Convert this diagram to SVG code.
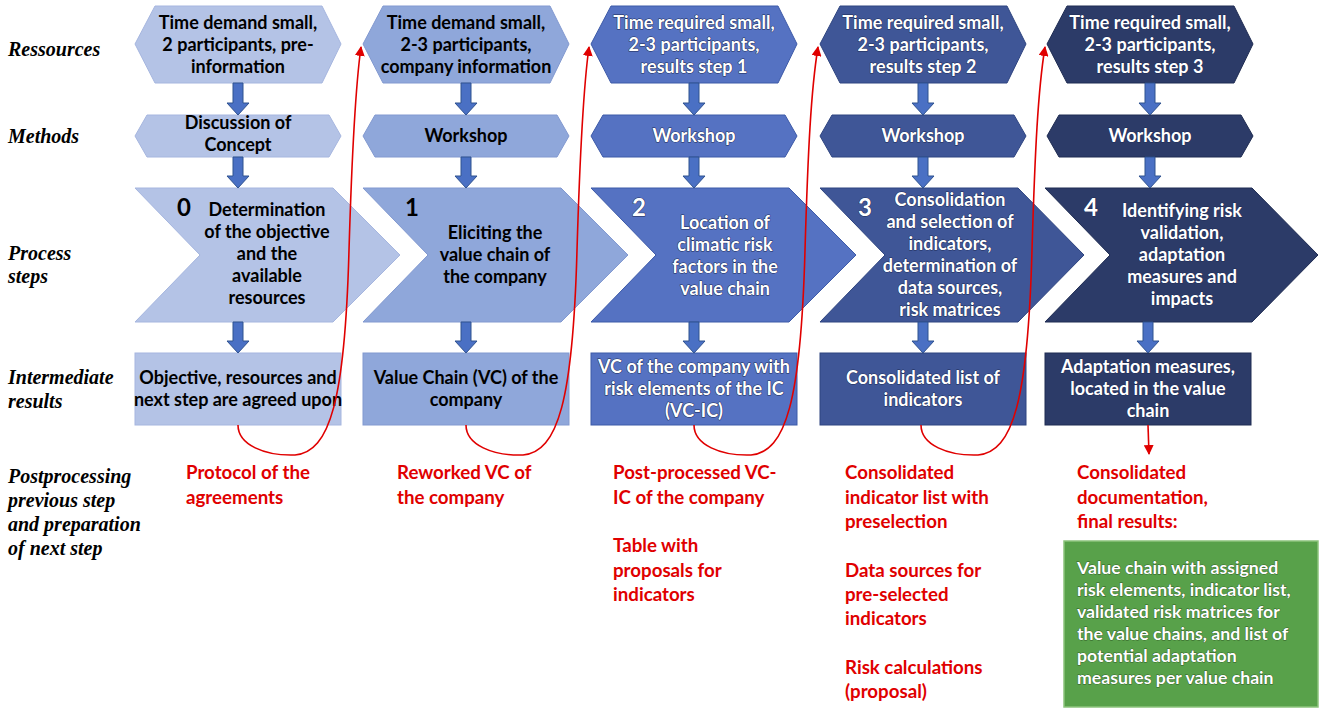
<svg xmlns="http://www.w3.org/2000/svg" width="1325" height="712" viewBox="0 0 1325 712">
<defs>
<marker id="ra" viewBox="0 0 10 10" refX="9" refY="5" markerWidth="10" markerHeight="10" markerUnits="userSpaceOnUse" orient="auto">
<path d="M0,0 L10,5 L0,10 z" fill="#e00000"/>
</marker>
</defs>
<style>
.lab{font-family:"Liberation Serif",serif;font-weight:bold;font-style:italic;font-size:20px;fill:#000}
.t{font-family:"Lato","Carlito",sans-serif;font-weight:bold;font-size:18px;text-anchor:middle}
.k{fill:#000}
.w{fill:#fff;stroke:#1c2a55;stroke-width:1;paint-order:stroke;stroke-linejoin:round}
.num{font-family:"Lato","Carlito",sans-serif;font-weight:bold;font-size:24px}
.red{font-family:"Lato","Carlito",sans-serif;font-weight:bold;font-size:18.7px;fill:#e00000}
.c0{fill:#b4c3e6;stroke:#a6b6df;stroke-width:1}
.c1{fill:#8fa7da;stroke:#8299d0;stroke-width:1}
.c2{fill:#5572c2;stroke:#3d5aa8;stroke-width:1}
.c3{fill:#3f5697;stroke:#2f4580;stroke-width:1}
.c4{fill:#2c3b68;stroke:#1f2c52;stroke-width:1}
.ba{fill:#4a70c4;stroke:#2f528f;stroke-width:1}
.rc{fill:none;stroke:#e00000;stroke-width:1.6}
.gb{fill:#58a14a;stroke:#8cc47c;stroke-width:1.5}
.g{font-family:"Lato","Carlito",sans-serif;font-weight:bold;font-size:17.7px;fill:#fff;stroke:#2e5a24;stroke-width:0.8;paint-order:stroke}
</style>

<g id="labels">
<text class="lab" x="8" y="56">Ressources</text>
<text class="lab" x="8" y="143">Methods</text>
<text class="lab" x="8" y="260">Process</text>
<text class="lab" x="8" y="283">steps</text>
<text class="lab" x="8" y="384">Intermediate</text>
<text class="lab" x="8" y="408">results</text>
<text class="lab" x="8" y="483">Postprocessing</text>
<text class="lab" x="8" y="507">previous step</text>
<text class="lab" x="8" y="531">and preparation</text>
<text class="lab" x="8" y="555">of next step</text>
</g>

<!-- Column 0 -->
<g id="res0">
<polygon class="c0" points="135,44 155,6 322,6 341,44 322,83 155,83"/>
<text class="t k" x="238" y="29">Time demand small,</text>
<text class="t k" x="238" y="51">2 participants, pre-</text>
<text class="t k" x="238" y="73">information</text>
</g>
<g id="met0">
<polygon class="c0" points="135,136 147,115 329,115 341,136 329,157 147,157"/>
<text class="t k" x="238" y="129">Discussion of</text>
<text class="t k" x="238" y="151">Concept</text>
</g>
<g id="step0">
<polygon class="c0" points="135,188 333,188 400,255 333,322 135,322 200,255"/>
<text class="num k" x="177" y="216">0</text>
<text class="t k" x="267" y="216">Determination</text>
<text class="t k" x="267" y="238">of the objective</text>
<text class="t k" x="267" y="260">and the</text>
<text class="t k" x="267" y="282">available</text>
<text class="t k" x="267" y="304">resources</text>
</g>
<g id="out0">
<rect class="c0" x="135" y="353" width="206" height="72"/>
<text class="t k" x="238" y="384">Objective, resources and</text>
<text class="t k" x="238" y="406">next step are agreed upon</text>
</g>
<g id="post0">
<text class="red" x="186" y="479">Protocol of the</text>
<text class="red" x="186" y="504">agreements</text>
</g>

<!-- Column 1 -->
<g id="res1">
<polygon class="c1" points="363,44 383,6 550,6 569,44 550,83 383,83"/>
<text class="t k" x="466" y="29">Time demand small,</text>
<text class="t k" x="466" y="51">2-3 participants,</text>
<text class="t k" x="466" y="73">company information</text>
</g>
<g id="met1">
<polygon class="c1" points="363,136 375,115 557,115 569,136 557,157 375,157"/>
<text class="t k" x="466" y="142">Workshop</text>
</g>
<g id="step1">
<polygon class="c1" points="363,188 561,188 628,255 561,322 363,322 428,255"/>
<text class="num k" x="405" y="216">1</text>
<text class="t k" x="495" y="239">Eliciting the</text>
<text class="t k" x="495" y="261">value chain of</text>
<text class="t k" x="495" y="283">the company</text>
</g>
<g id="out1">
<rect class="c1" x="363" y="353" width="206" height="72"/>
<text class="t k" x="466" y="384">Value Chain (VC) of the</text>
<text class="t k" x="466" y="406">company</text>
</g>
<g id="post1">
<text class="red" x="397" y="479">Reworked VC of</text>
<text class="red" x="397" y="504">the company</text>
</g>

<!-- Column 2 -->
<g id="res2">
<polygon class="c2" points="591,44 611,6 778,6 797,44 778,83 611,83"/>
<text class="t w" x="694" y="29">Time required small,</text>
<text class="t w" x="694" y="51">2-3 participants,</text>
<text class="t w" x="694" y="73">results step 1</text>
</g>
<g id="met2">
<polygon class="c2" points="591,136 603,115 785,115 797,136 785,157 603,157"/>
<text class="t w" x="694" y="142">Workshop</text>
</g>
<g id="step2">
<polygon class="c2" points="591,188 789,188 856,255 789,322 591,322 656,255"/>
<text class="num w" x="632" y="216">2</text>
<text class="t w" x="725" y="229">Location of</text>
<text class="t w" x="725" y="251">climatic risk</text>
<text class="t w" x="725" y="273">factors in the</text>
<text class="t w" x="725" y="295">value chain</text>
</g>
<g id="out2">
<rect class="c2" x="591" y="353" width="206" height="72"/>
<text class="t w" x="694" y="373">VC of the company with</text>
<text class="t w" x="694" y="395">risk elements of the IC</text>
<text class="t w" x="694" y="417">(VC-IC)</text>
</g>
<g id="post2">
<text class="red" x="613" y="479">Post-processed VC-</text>
<text class="red" x="613" y="504">IC of the company</text>
<text class="red" x="613" y="552">Table with</text>
<text class="red" x="613" y="577">proposals for</text>
<text class="red" x="613" y="601">indicators</text>
</g>

<!-- Column 3 -->
<g id="res3">
<polygon class="c3" points="820,44 840,6 1007,6 1026,44 1007,83 840,83"/>
<text class="t w" x="923" y="29">Time required small,</text>
<text class="t w" x="923" y="51">2-3 participants,</text>
<text class="t w" x="923" y="73">results step 2</text>
</g>
<g id="met3">
<polygon class="c3" points="820,136 832,115 1014,115 1026,136 1014,157 832,157"/>
<text class="t w" x="923" y="142">Workshop</text>
</g>
<g id="step3">
<polygon class="c3" points="820,188 1018,188 1084,255 1018,322 820,322 885,255"/>
<text class="num w" x="858" y="216">3</text>
<text class="t w" x="950" y="206">Consolidation</text>
<text class="t w" x="950" y="228">and selection of</text>
<text class="t w" x="950" y="250">indicators,</text>
<text class="t w" x="950" y="272">determination of</text>
<text class="t w" x="950" y="294">data sources,</text>
<text class="t w" x="950" y="316">risk matrices</text>
</g>
<g id="out3">
<rect class="c3" x="820" y="353" width="206" height="72"/>
<text class="t w" x="923" y="384">Consolidated list of</text>
<text class="t w" x="923" y="406">indicators</text>
</g>
<g id="post3">
<text class="red" x="845" y="479">Consolidated</text>
<text class="red" x="845" y="504">indicator list with</text>
<text class="red" x="845" y="528">preselection</text>
<text class="red" x="845" y="577">Data sources for</text>
<text class="red" x="845" y="601">pre-selected</text>
<text class="red" x="845" y="625">indicators</text>
<text class="red" x="845" y="674">Risk calculations</text>
<text class="red" x="845" y="698">(proposal)</text>
</g>

<!-- Column 4 -->
<g id="res4">
<polygon class="c4" points="1047,44 1067,6 1234,6 1253,44 1234,83 1067,83"/>
<text class="t w" x="1150" y="29">Time required small,</text>
<text class="t w" x="1150" y="51">2-3 participants,</text>
<text class="t w" x="1150" y="73">results step 3</text>
</g>
<g id="met4">
<polygon class="c4" points="1047,136 1059,115 1241,115 1253,136 1241,157 1059,157"/>
<text class="t w" x="1150" y="142">Workshop</text>
</g>
<g id="step4">
<polygon class="c4" points="1045,188 1252,188 1318,255 1252,322 1045,322 1110,255"/>
<text class="num w" x="1084" y="216">4</text>
<text class="t w" x="1182" y="217">Identifying risk</text>
<text class="t w" x="1182" y="239">validation,</text>
<text class="t w" x="1182" y="261">adaptation</text>
<text class="t w" x="1182" y="283">measures and</text>
<text class="t w" x="1182" y="305">impacts</text>
</g>
<g id="out4">
<rect class="c4" x="1045" y="353" width="206" height="72"/>
<text class="t w" x="1148" y="373">Adaptation measures,</text>
<text class="t w" x="1148" y="395">located in the value</text>
<text class="t w" x="1148" y="417">chain</text>
</g>
<g id="post4">
<text class="red" x="1077" y="479">Consolidated</text>
<text class="red" x="1077" y="504">documentation,</text>
<text class="red" x="1077" y="528">final results:</text>
</g>
<g id="final">
<rect class="gb" x="1064" y="541" width="254" height="166"/>
<text class="g" x="1077" y="574">Value chain with assigned</text>
<text class="g" x="1077" y="596">risk elements, indicator list,</text>
<text class="g" x="1077" y="618">validated risk matrices for</text>
<text class="g" x="1077" y="640">the value chains, and list of</text>
<text class="g" x="1077" y="662">potential adaptation</text>
<text class="g" x="1077" y="684">measures per value chain</text>
</g>

<g id="connectors">
<polygon class="ba" points="233,83 243,83 243,103 249,103 238,115 227,103 233,103"/>
<polygon class="ba" points="233,157 243,157 243,176 249,176 238,188 227,176 233,176"/>
<polygon class="ba" points="233,322 243,322 243,341 249,341 238,353 227,341 233,341"/>
<polygon class="ba" points="461,83 471,83 471,103 477,103 466,115 455,103 461,103"/>
<polygon class="ba" points="461,157 471,157 471,176 477,176 466,188 455,176 461,176"/>
<polygon class="ba" points="461,322 471,322 471,341 477,341 466,353 455,341 461,341"/>
<polygon class="ba" points="689,83 699,83 699,103 705,103 694,115 683,103 689,103"/>
<polygon class="ba" points="689,157 699,157 699,176 705,176 694,188 683,176 689,176"/>
<polygon class="ba" points="689,322 699,322 699,341 705,341 694,353 683,341 689,341"/>
<polygon class="ba" points="918,83 928,83 928,103 934,103 923,115 912,103 918,103"/>
<polygon class="ba" points="918,157 928,157 928,176 934,176 923,188 912,176 918,176"/>
<polygon class="ba" points="918,322 928,322 928,341 934,341 923,353 912,341 918,341"/>
<polygon class="ba" points="1145,83 1155,83 1155,103 1161,103 1150,115 1139,103 1145,103"/>
<polygon class="ba" points="1145,157 1155,157 1155,176 1161,176 1150,188 1139,176 1145,176"/>
<polygon class="ba" points="1143,322 1153,322 1153,341 1159,341 1148,353 1137,341 1143,341"/>
<path class="rc" marker-end="url(#ra)" d="M238,425 C238,445 265,456 295,455 C330,452 345,400 349,250 C352,150 355,90 361,47"/>
<path class="rc" marker-end="url(#ra)" d="M466,425 C466,445 493,456 523,455 C558,452 573,400 577,250 C580,150 583,90 589,47"/>
<path class="rc" marker-end="url(#ra)" d="M694,425 C694,445 721,456 751,455 C786,452 801,400 805,250 C808,150 811,90 818,47"/>
<path class="rc" marker-end="url(#ra)" d="M921,425 C921,445 948,456 978,455 C1013,452 1028,400 1032,250 C1035,150 1038,90 1045,47"/>
<path class="rc" marker-end="url(#ra)" d="M1148,425 L1149,454"/>
</g>
</svg>
